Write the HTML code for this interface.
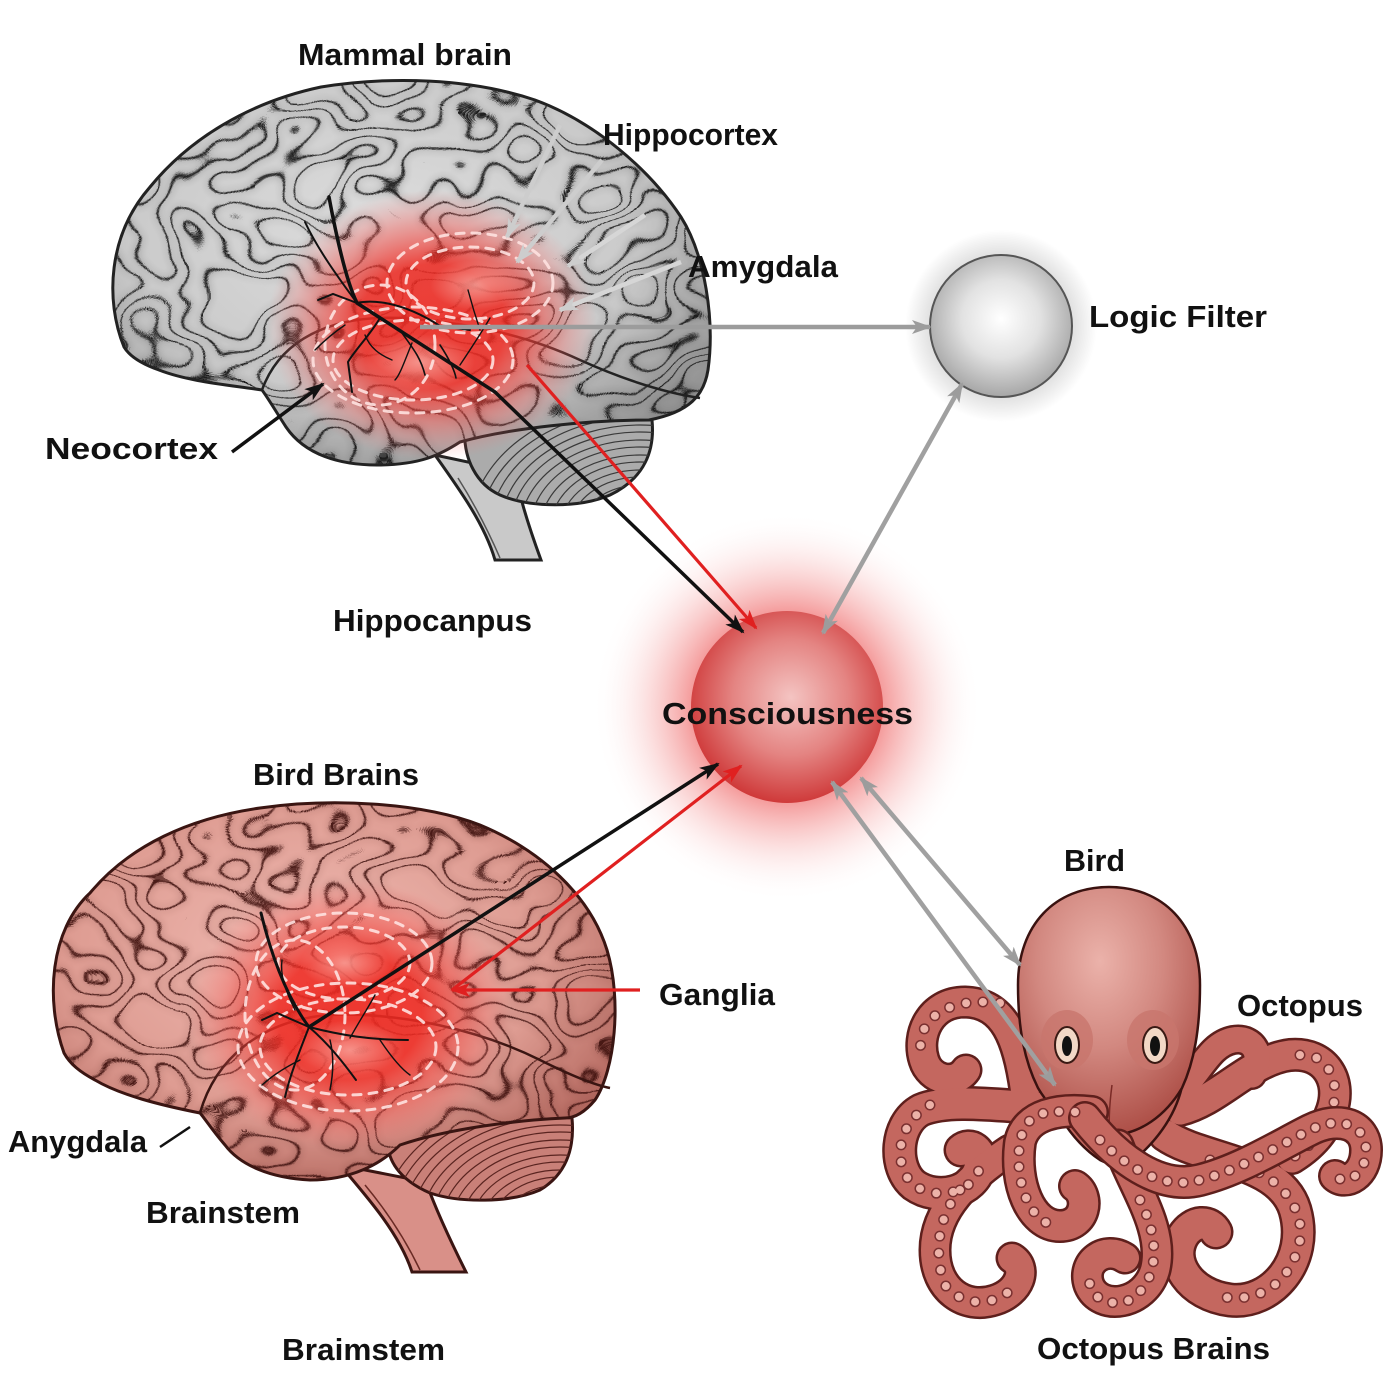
<!DOCTYPE html>
<html>
<head>
<meta charset="utf-8">
<style>
html,body{margin:0;padding:0;background:#ffffff;}
svg{display:block;}
.t{font-family:"Liberation Sans",Arial,sans-serif;font-weight:bold;font-size:31px;fill:#111;}
</style>
</head>
<body>
<svg width="1400" height="1400" viewBox="0 0 1400 1400" xmlns="http://www.w3.org/2000/svg">
<defs>
  <path id="gCer" d="M 124,347 C 105,300 108,235 150,187 C 190,138 250,102 321,87 C 390,76 470,78 535,100 C 595,122 650,170 681,217 C 705,255 715,320 708,370 C 704,395 690,412 649,420 C 590,420 510,428 460,442 C 440,455 420,465 377,465 C 340,465 305,455 286,427 C 275,410 268,398 262,390 C 230,385 190,382 159,370 C 142,364 130,357 124,347 Z"/>
  <path id="gCbl" d="M 465,425 C 520,415 600,415 652,420 C 655,450 645,478 610,495 C 580,508 530,508 500,495 C 478,485 462,460 465,425 Z"/>
  <path id="pCer" d="M 64,1053 C 45,1000 50,930 90,893 C 130,845 190,818 260,808 C 330,798 420,802 480,825 C 540,850 590,895 607,950 C 622,1000 615,1070 595,1100 C 585,1112 575,1118 565,1118 C 520,1120 450,1128 400,1145 C 380,1165 350,1180 310,1180 C 270,1178 240,1165 225,1145 C 212,1130 206,1120 200,1113 C 160,1105 120,1095 95,1080 C 80,1072 70,1064 64,1053 Z"/>
  <path id="pCbl" d="M 388,1135 C 420,1120 520,1112 572,1118 C 575,1150 565,1175 540,1190 C 510,1203 460,1203 430,1193 C 400,1180 385,1160 388,1135 Z"/>
  <clipPath id="cGCer"><use href="#gCer"/></clipPath>
  <clipPath id="cGCbl"><use href="#gCbl"/></clipPath>
  <clipPath id="cPCer"><use href="#pCer"/></clipPath>
  <clipPath id="cPCbl"><use href="#pCbl"/></clipPath>

  <radialGradient id="gB" cx="0.45" cy="0.4" r="0.65">
    <stop offset="0" stop-color="#dedede"/>
    <stop offset="0.65" stop-color="#cacaca"/>
    <stop offset="1" stop-color="#959595"/>
  </radialGradient>
  <radialGradient id="gP" cx="0.45" cy="0.4" r="0.65">
    <stop offset="0" stop-color="#f0bab2"/>
    <stop offset="0.65" stop-color="#de9c92"/>
    <stop offset="1" stop-color="#b4685f"/>
  </radialGradient>
  <radialGradient id="gR">
    <stop offset="0" stop-color="#ee2a22" stop-opacity="0.9"/>
    <stop offset="0.45" stop-color="#ef2a22" stop-opacity="0.85"/>
    <stop offset="0.75" stop-color="#f44a44" stop-opacity="0.4"/>
    <stop offset="1" stop-color="#ff7070" stop-opacity="0"/>
  </radialGradient>
  <radialGradient id="gLight">
    <stop offset="0" stop-color="#ffd8d0" stop-opacity="0.55"/>
    <stop offset="1" stop-color="#ffd8d0" stop-opacity="0"/>
  </radialGradient>
  <radialGradient id="gLogic" cx="0.5" cy="0.45" r="0.55">
    <stop offset="0" stop-color="#ffffff"/>
    <stop offset="0.5" stop-color="#e2e2e2"/>
    <stop offset="1" stop-color="#a6a6a6"/>
  </radialGradient>
  <radialGradient id="gLogicGlow">
    <stop offset="0.7" stop-color="#000" stop-opacity="0.14"/>
    <stop offset="1" stop-color="#000" stop-opacity="0"/>
  </radialGradient>
  <radialGradient id="gConGlow">
    <stop offset="0.45" stop-color="#ea4040" stop-opacity="0.6"/>
    <stop offset="0.7" stop-color="#f28080" stop-opacity="0.28"/>
    <stop offset="1" stop-color="#ffffff" stop-opacity="0"/>
  </radialGradient>
  <radialGradient id="gCon" cx="0.52" cy="0.45" r="0.55">
    <stop offset="0" stop-color="#f4c4c2"/>
    <stop offset="0.55" stop-color="#e48482"/>
    <stop offset="1" stop-color="#cf3a3a"/>
  </radialGradient>
  <radialGradient id="gHead" cx="0.45" cy="0.3" r="0.7">
    <stop offset="0" stop-color="#ebb2aa"/>
    <stop offset="0.5" stop-color="#d28880"/>
    <stop offset="1" stop-color="#ae5048"/>
  </radialGradient>

  <filter id="gyG" filterUnits="userSpaceOnUse" x="100" y="70" width="630" height="420" color-interpolation-filters="sRGB">
    <feTurbulence type="fractalNoise" baseFrequency="0.011 0.015" numOctaves="2" seed="11" result="n0"/>
    <feGaussianBlur in="n0" stdDeviation="2" result="n"/>
    <feColorMatrix in="n" type="matrix" values="0 0 0 0 0.08  0 0 0 0 0.08  0 0 0 0 0.08  1 0 0 0 0" result="a"/>
    <feComponentTransfer in="a" result="l"><feFuncA type="table" tableValues="0 0 0 0 0 0 0 0 0 0 0 0 0 0 0 0 0 0 0 0 0 0 0 0 0 0 0 0 1 0 0 0 0 0 0 0 1 0 0 0 0 0 0 0 1 0 0 0 0 0 0 0 1 0 0 0 0 0 0 0 0 0 0 0 0 0 0 0 0 0 0 0 0 0 0 0 0 0 0 0 0"/></feComponentTransfer>
    <feGaussianBlur in="l" stdDeviation="4" result="b"/>
    <feComponentTransfer in="b" result="b2"><feFuncA type="linear" slope="0.45"/></feComponentTransfer>
    <feMerge><feMergeNode in="b2"/><feMergeNode in="l"/></feMerge>
  </filter>
  <filter id="gyP" filterUnits="userSpaceOnUse" x="40" y="790" width="600" height="410" color-interpolation-filters="sRGB">
    <feTurbulence type="fractalNoise" baseFrequency="0.011 0.015" numOctaves="2" seed="4" result="n0"/>
    <feGaussianBlur in="n0" stdDeviation="2" result="n"/>
    <feColorMatrix in="n" type="matrix" values="0 0 0 0 0.25  0 0 0 0 0.07  0 0 0 0 0.06  1 0 0 0 0" result="a"/>
    <feComponentTransfer in="a" result="l"><feFuncA type="table" tableValues="0 0 0 0 0 0 0 0 0 0 0 0 0 0 0 0 0 0 0 0 0 0 0 0 0 0 0 0 1 0 0 0 0 0 0 0 1 0 0 0 0 0 0 0 1 0 0 0 0 0 0 0 1 0 0 0 0 0 0 0 0 0 0 0 0 0 0 0 0 0 0 0 0 0 0 0 0 0 0 0 0"/></feComponentTransfer>
    <feGaussianBlur in="l" stdDeviation="4" result="b"/>
    <feComponentTransfer in="b" result="b2"><feFuncA type="linear" slope="0.45"/></feComponentTransfer>
    <feMerge><feMergeNode in="b2"/><feMergeNode in="l"/></feMerge>
  </filter>

  <marker id="mG" viewBox="0 0 20 14" refX="18" refY="7" markerWidth="20" markerHeight="14" markerUnits="userSpaceOnUse" orient="auto-start-reverse"><path d="M0,0 L20,7 L0,14 L5,7 Z" fill="#9c9c9c"/></marker>
  <marker id="mL" viewBox="0 0 20 14" refX="18" refY="7" markerWidth="20" markerHeight="14" markerUnits="userSpaceOnUse" orient="auto-start-reverse"><path d="M0,0 L20,7 L0,14 L5,7 Z" fill="#cdcdcd"/></marker>
  <marker id="mK" viewBox="0 0 20 14" refX="18" refY="7" markerWidth="20" markerHeight="14" markerUnits="userSpaceOnUse" orient="auto-start-reverse"><path d="M0,0 L20,7 L0,14 L5,7 Z" fill="#111"/></marker>
  <marker id="mR" viewBox="0 0 20 14" refX="18" refY="7" markerWidth="20" markerHeight="14" markerUnits="userSpaceOnUse" orient="auto-start-reverse"><path d="M0,0 L20,7 L0,14 L5,7 Z" fill="#e02020"/></marker>
</defs>

<rect width="1400" height="1400" fill="#ffffff"/>

<!-- ================= GRAY (MAMMAL) BRAIN ================= -->
<path d="M 435,455 C 460,490 485,525 495,560 L 541,560 C 530,530 520,500 515,472 Z" fill="#c9c9c9" stroke="#222" stroke-width="3"/>
<path d="M 458,478 C 475,505 490,535 500,558" fill="none" stroke="#555" stroke-width="1.5"/>
<use href="#gCbl" fill="#ababab" stroke="#222" stroke-width="3"/>
<g clip-path="url(#cGCbl)" fill="none" stroke="#3a3a3a" stroke-width="1.2">
  <ellipse cx="640" cy="530" rx="40" ry="30"/><ellipse cx="640" cy="530" rx="50" ry="38"/>
  <ellipse cx="640" cy="530" rx="60" ry="45"/><ellipse cx="640" cy="530" rx="70" ry="53"/>
  <ellipse cx="640" cy="530" rx="80" ry="60"/><ellipse cx="640" cy="530" rx="90" ry="68"/>
  <ellipse cx="640" cy="530" rx="100" ry="75"/><ellipse cx="640" cy="530" rx="110" ry="83"/>
  <ellipse cx="640" cy="530" rx="120" ry="90"/><ellipse cx="640" cy="530" rx="130" ry="98"/>
  <ellipse cx="640" cy="530" rx="140" ry="105"/><ellipse cx="640" cy="530" rx="150" ry="113"/>
  <ellipse cx="640" cy="530" rx="160" ry="120"/><ellipse cx="640" cy="530" rx="170" ry="128"/>
</g>
<use href="#gCer" fill="url(#gB)"/>
<g clip-path="url(#cGCer)">
  <rect x="100" y="70" width="630" height="420" filter="url(#gyG)"/>
</g>
<path d="M 262,390 C 280,340 330,315 400,318 C 460,322 520,332 580,360 C 620,378 660,392 700,398" fill="none" stroke="#222" stroke-width="2.5"/>
<use href="#gCer" fill="none" stroke="#222" stroke-width="3"/>
<ellipse cx="432" cy="325" rx="165" ry="135" fill="url(#gR)"/>
<ellipse cx="475" cy="285" rx="45" ry="25" fill="url(#gLight)"/>
<ellipse cx="420" cy="362" rx="55" ry="28" fill="url(#gLight)"/>
<g fill="none" stroke="#ffe2e0" stroke-width="3" stroke-dasharray="8 8" stroke-linecap="round" opacity="0.9">
  <ellipse cx="470" cy="283" rx="83" ry="50"/>
  <ellipse cx="470" cy="283" rx="64" ry="36"/>
  <ellipse cx="413" cy="360" rx="100" ry="53"/>
  <ellipse cx="413" cy="360" rx="80" ry="40"/>
  <ellipse cx="380" cy="345" rx="55" ry="60"/>
</g>
<g fill="none" stroke="#111" stroke-linecap="round">
  <path d="M 329,197 C 338,245 348,285 357,303 L 495,392" stroke-width="3.5"/>
  <path d="M 357,303 C 340,280 318,250 305,222" stroke-width="2"/>
  <path d="M 357,303 L 333,294 L 318,300" stroke-width="2"/>
  <path d="M 357,303 C 370,300 400,300 440,326 L 470,330" stroke-width="2"/>
  <path d="M 380,318 C 370,335 355,350 348,362 L 352,392" stroke-width="2"/>
  <path d="M 400,330 C 410,345 420,355 425,375" stroke-width="1.6"/>
  <path d="M 440,345 C 450,360 455,372 456,378" stroke-width="1.6"/>
  <path d="M 460,365 C 470,350 480,335 490,318" stroke-width="1.4"/>
  <path d="M 468,290 C 472,305 476,318 480,330" stroke-width="1.4"/>
  <path d="M 345,325 C 330,335 320,345 315,350" stroke-width="1.4"/>
  <path d="M 365,335 C 370,348 380,355 392,360" stroke-width="1.4"/>
  <path d="M 412,343 C 405,360 400,375 395,380" stroke-width="1.4"/>
</g>

<!-- ================= PINK (BIRD) BRAIN ================= -->
<path d="M 340,1165 C 370,1200 400,1235 412,1272 L 466,1272 C 450,1240 436,1210 426,1182 Z" fill="#d99088" stroke="#3a1512" stroke-width="3"/>
<path d="M 365,1185 C 390,1215 408,1245 420,1270" fill="none" stroke="#6a2a24" stroke-width="1.5"/>
<use href="#pCbl" fill="#c98078" stroke="#3a1512" stroke-width="3"/>
<g clip-path="url(#cPCbl)" fill="none" stroke="#5a2420" stroke-width="1.2">
  <ellipse cx="560" cy="1230" rx="40" ry="30"/><ellipse cx="560" cy="1230" rx="50" ry="38"/>
  <ellipse cx="560" cy="1230" rx="60" ry="45"/><ellipse cx="560" cy="1230" rx="70" ry="53"/>
  <ellipse cx="560" cy="1230" rx="80" ry="60"/><ellipse cx="560" cy="1230" rx="90" ry="68"/>
  <ellipse cx="560" cy="1230" rx="100" ry="75"/><ellipse cx="560" cy="1230" rx="110" ry="83"/>
  <ellipse cx="560" cy="1230" rx="120" ry="90"/><ellipse cx="560" cy="1230" rx="130" ry="98"/>
  <ellipse cx="560" cy="1230" rx="140" ry="105"/><ellipse cx="560" cy="1230" rx="150" ry="113"/>
  <ellipse cx="560" cy="1230" rx="160" ry="120"/><ellipse cx="560" cy="1230" rx="170" ry="128"/>
  <ellipse cx="560" cy="1230" rx="180" ry="135"/>
</g>
<use href="#pCer" fill="url(#gP)"/>
<g clip-path="url(#cPCer)">
  <rect x="40" y="790" width="600" height="410" filter="url(#gyP)"/>
</g>
<path d="M 200,1113 C 215,1060 260,1020 330,1015 C 400,1012 480,1030 540,1060 C 570,1075 595,1085 610,1088" fill="none" stroke="#3a1512" stroke-width="2.5"/>
<use href="#pCer" fill="none" stroke="#3a1512" stroke-width="3"/>
<ellipse cx="350" cy="1015" rx="160" ry="135" fill="url(#gR)"/>
<ellipse cx="345" cy="963" rx="45" ry="25" fill="url(#gLight)"/>
<ellipse cx="350" cy="1050" rx="55" ry="30" fill="url(#gLight)"/>
<g fill="none" stroke="#ffe2e0" stroke-width="3" stroke-dasharray="8 8" stroke-linecap="round" opacity="0.9">
  <ellipse cx="344" cy="963" rx="88" ry="50"/>
  <ellipse cx="344" cy="963" rx="66" ry="36"/>
  <ellipse cx="348" cy="1047" rx="110" ry="64"/>
  <ellipse cx="348" cy="1047" rx="88" ry="48"/>
  <ellipse cx="295" cy="1015" rx="50" ry="75"/>
</g>
<g fill="none" stroke="#111" stroke-linecap="round">
  <path d="M 261,913 C 270,950 285,995 309,1027" stroke-width="3"/>
  <path d="M 309,1027 L 277,1013 L 262,1020" stroke-width="2"/>
  <path d="M 309,1027 C 300,1050 290,1075 285,1097" stroke-width="2"/>
  <path d="M 309,1027 C 330,1045 345,1065 356,1080" stroke-width="2"/>
  <path d="M 309,1027 C 340,1035 370,1040 408,1040" stroke-width="2"/>
  <path d="M 330,1040 C 335,1060 332,1080 330,1090" stroke-width="1.5"/>
  <path d="M 350,1038 C 360,1020 368,1008 375,995" stroke-width="1.4"/>
  <path d="M 380,1040 C 390,1055 400,1068 410,1075" stroke-width="1.4"/>
  <path d="M 295,1010 C 285,990 280,975 282,960" stroke-width="1.4"/>
  <path d="M 300,1060 C 280,1070 270,1078 262,1085" stroke-width="1.4"/>
</g>

<!-- ================= LOGIC FILTER ================= -->
<circle cx="1001" cy="326" r="96" fill="url(#gLogicGlow)"/>
<circle cx="1001" cy="326" r="71" fill="url(#gLogic)" stroke="#555" stroke-width="2"/>

<!-- ================= CONSCIOUSNESS ================= -->
<circle cx="787" cy="707" r="195" fill="url(#gConGlow)"/>
<circle cx="787" cy="707" r="96" fill="url(#gCon)"/>

<!-- ================= OCTOPUS ================= -->
<g fill="none" stroke-linecap="round" stroke-linejoin="round">
  <g stroke="#5e1f1c">
    <path d="M 1180,1110 C 1220,1100 1250,1060 1290,1055 C 1325,1052 1342,1080 1332,1110 C 1324,1135 1305,1150 1292,1158" stroke-width="34"/>
    <path d="M 1175,1095 C 1200,1075 1208,1045 1233,1040 C 1255,1036 1264,1058 1252,1075" stroke-width="30"/>
    <path d="M 1165,1135 C 1200,1160 1280,1160 1295,1210 C 1310,1262 1270,1305 1230,1300 C 1190,1295 1168,1262 1183,1236 C 1193,1220 1210,1220 1216,1232" stroke-width="35"/>
    <path d="M 1025,1090 C 1018,1040 1005,1003 965,1002 C 930,1002 916,1035 924,1060 C 930,1080 955,1086 966,1070" stroke-width="33"/>
    <path d="M 1045,1108 C 1000,1106 950,1098 921,1110 C 895,1124 893,1168 914,1185 C 938,1202 975,1192 980,1166 C 983,1150 970,1142 961,1150" stroke-width="35"/>
    <path d="M 1010,1150 C 968,1178 935,1210 935,1250 C 935,1290 965,1310 995,1300 C 1020,1292 1028,1268 1012,1258" stroke-width="33"/>
  </g>
  <g stroke="#c4675f">
    <path d="M 1180,1110 C 1220,1100 1250,1060 1290,1055 C 1325,1052 1342,1080 1332,1110 C 1324,1135 1305,1150 1292,1158" stroke-width="29"/>
    <path d="M 1175,1095 C 1200,1075 1208,1045 1233,1040 C 1255,1036 1264,1058 1252,1075" stroke-width="25"/>
    <path d="M 1165,1135 C 1200,1160 1280,1160 1295,1210 C 1310,1262 1270,1305 1230,1300 C 1190,1295 1168,1262 1183,1236 C 1193,1220 1210,1220 1216,1232" stroke-width="30"/>
    <path d="M 1025,1090 C 1018,1040 1005,1003 965,1002 C 930,1002 916,1035 924,1060 C 930,1080 955,1086 966,1070" stroke-width="28"/>
    <path d="M 1045,1108 C 1000,1106 950,1098 921,1110 C 895,1124 893,1168 914,1185 C 938,1202 975,1192 980,1166 C 983,1150 970,1142 961,1150" stroke-width="30"/>
    <path d="M 1010,1150 C 968,1178 935,1210 935,1250 C 935,1290 965,1310 995,1300 C 1020,1292 1028,1268 1012,1258" stroke-width="28"/>
  </g>
  <g stroke-dasharray="0 17">
    <g stroke="#7a3030" stroke-width="11">
      <path d="M 1300,1055 C 1325,1052 1342,1080 1332,1110 C 1324,1135 1305,1150 1292,1158"/>
      <path d="M 1210,1160 C 1280,1165 1305,1210 1300,1240 C 1290,1290 1250,1305 1215,1295"/>
      <path d="M 1000,1003 C 930,995 912,1035 924,1060"/>
      <path d="M 930,1105 C 895,1124 893,1168 914,1185 C 938,1202 975,1192 980,1166"/>
      <path d="M 960,1190 C 935,1220 935,1260 945,1285 C 965,1310 1000,1305 1015,1285"/>
    </g>
    <g stroke="#ecb2a8" stroke-width="8">
      <path d="M 1300,1055 C 1325,1052 1342,1080 1332,1110 C 1324,1135 1305,1150 1292,1158"/>
      <path d="M 1210,1160 C 1280,1165 1305,1210 1300,1240 C 1290,1290 1250,1305 1215,1295"/>
      <path d="M 1000,1003 C 930,995 912,1035 924,1060"/>
      <path d="M 930,1105 C 895,1124 893,1168 914,1185 C 938,1202 975,1192 980,1166"/>
      <path d="M 960,1190 C 935,1220 935,1260 945,1285 C 965,1310 1000,1305 1015,1285"/>
    </g>
  </g>
</g>
<path d="M 1040,1060 C 1045,1100 1070,1140 1100,1160 C 1115,1168 1130,1165 1145,1150 C 1170,1125 1185,1095 1185,1060 Z" fill="#c0645c" stroke="#3a1210" stroke-width="2.5"/>
<path d="M 1018,985 C 1018,925 1055,887 1109,887 C 1163,887 1200,925 1200,985 C 1200,1030 1194,1062 1182,1088 C 1166,1115 1140,1135 1110,1135 C 1080,1135 1054,1115 1038,1088 C 1025,1062 1018,1030 1018,985 Z" fill="url(#gHead)" stroke="#3a1210" stroke-width="2.5"/>
<ellipse cx="1067" cy="1040" rx="26" ry="30" fill="#c8756d" opacity="0.8"/>
<ellipse cx="1153" cy="1040" rx="26" ry="30" fill="#c8756d" opacity="0.8"/>
<ellipse cx="1067" cy="1045" rx="12" ry="18" fill="#f2d8c6" stroke="#3a1a14" stroke-width="2"/>
<ellipse cx="1067" cy="1046" rx="5" ry="10" fill="#111"/>
<ellipse cx="1155" cy="1045" rx="12" ry="18" fill="#f2d8c6" stroke="#3a1a14" stroke-width="2"/>
<ellipse cx="1155" cy="1046" rx="5" ry="10" fill="#111"/>
<path d="M 1112,1085 C 1110,1100 1108,1120 1110,1140" fill="none" stroke="#7a2a26" stroke-width="1.5"/>
<g fill="none" stroke-linecap="round" stroke-linejoin="round">
  <path d="M 1118,1145 C 1135,1190 1165,1230 1155,1270 C 1145,1305 1100,1312 1089,1285 C 1081,1262 1105,1245 1125,1258" stroke="#5e1f1c" stroke-width="33"/>
  <path d="M 1118,1145 C 1135,1190 1165,1230 1155,1270 C 1145,1305 1100,1312 1089,1285 C 1081,1262 1105,1245 1125,1258" stroke="#c4675f" stroke-width="28"/>
  <path d="M 1092,1112 C 1060,1108 1026,1114 1020,1142 C 1014,1182 1030,1226 1060,1226 C 1086,1226 1090,1196 1075,1186" stroke="#5e1f1c" stroke-width="34"/>
  <path d="M 1092,1112 C 1060,1108 1026,1114 1020,1142 C 1014,1182 1030,1226 1060,1226 C 1086,1226 1090,1196 1075,1186" stroke="#c4675f" stroke-width="29"/>
  <path d="M 1085,1118 C 1118,1160 1160,1190 1200,1180 C 1240,1170 1280,1145 1310,1130 C 1340,1115 1366,1125 1366,1150 C 1366,1175 1346,1186 1335,1176" stroke="#5e1f1c" stroke-width="34"/>
  <path d="M 1085,1118 C 1118,1160 1160,1190 1200,1180 C 1240,1170 1280,1145 1310,1130 C 1340,1115 1366,1125 1366,1150 C 1366,1175 1346,1186 1335,1176" stroke="#c4675f" stroke-width="29"/>
  <g stroke-dasharray="0 16">
    <g stroke="#7a3030" stroke-width="11">
      <path d="M 1140,1200 C 1160,1240 1160,1280 1130,1300 C 1100,1310 1085,1290 1090,1270"/>
      <path d="M 1075,1112 C 1040,1110 1026,1114 1020,1142 C 1014,1182 1030,1226 1060,1226"/>
      <path d="M 1100,1140 C 1130,1170 1165,1190 1200,1180 C 1240,1170 1280,1145 1310,1130 C 1340,1115 1366,1125 1366,1150 C 1366,1175 1346,1186 1335,1176"/>
    </g>
    <g stroke="#ecb2a8" stroke-width="8">
      <path d="M 1140,1200 C 1160,1240 1160,1280 1130,1300 C 1100,1310 1085,1290 1090,1270"/>
      <path d="M 1075,1112 C 1040,1110 1026,1114 1020,1142 C 1014,1182 1030,1226 1060,1226"/>
      <path d="M 1100,1140 C 1130,1170 1165,1190 1200,1180 C 1240,1170 1280,1145 1310,1130 C 1340,1115 1366,1125 1366,1150 C 1366,1175 1346,1186 1335,1176"/>
    </g>
  </g>
</g>

<!-- ================= ARROWS ================= -->
<g fill="none" stroke-linecap="butt">
  <line x1="560" y1="125" x2="507" y2="237" stroke="#cdcdcd" stroke-width="4.5" marker-end="url(#mL)"/>
  <line x1="602" y1="160" x2="517" y2="262" stroke="#cdcdcd" stroke-width="4.5" marker-end="url(#mL)"/>
  <line x1="645" y1="215" x2="568" y2="266" stroke="#d6d6d6" stroke-width="4.5" marker-end="url(#mL)"/>
  <line x1="681" y1="262" x2="560" y2="310" stroke="#d6d6d6" stroke-width="4.5" marker-end="url(#mL)"/>
  <line x1="420" y1="327" x2="930" y2="327" stroke="#9c9c9c" stroke-width="4.5" marker-end="url(#mG)"/>
  <line x1="962" y1="384" x2="823" y2="633" stroke="#a0a0a0" stroke-width="4.5" marker-start="url(#mG)" marker-end="url(#mG)"/>
  <line x1="495" y1="392" x2="743" y2="632" stroke="#111" stroke-width="3.5" marker-end="url(#mK)"/>
  <line x1="527" y1="365" x2="756" y2="628" stroke="#e02020" stroke-width="3.2" marker-end="url(#mR)"/>
  <line x1="232" y1="452" x2="323" y2="384" stroke="#111" stroke-width="3.5" marker-end="url(#mK)"/>
  <line x1="309" y1="1027" x2="718" y2="764" stroke="#111" stroke-width="3.5" marker-end="url(#mK)"/>
  <line x1="452" y1="990" x2="741" y2="766" stroke="#e02020" stroke-width="3.2" marker-end="url(#mR)"/>
  <line x1="640" y1="990" x2="452" y2="990" stroke="#e02020" stroke-width="3.2" marker-end="url(#mR)"/>
  <line x1="160" y1="1147" x2="190" y2="1127" stroke="#111" stroke-width="2.5"/>
  <line x1="832" y1="782" x2="1055" y2="1085" stroke="#a0a0a0" stroke-width="4.5" marker-start="url(#mG)" marker-end="url(#mG)"/>
  <line x1="861" y1="778" x2="1020" y2="965" stroke="#a0a0a0" stroke-width="4.5" marker-start="url(#mG)" marker-end="url(#mG)"/>
</g>

<!-- ================= LABELS ================= -->
<text class="t" x="298" y="65" textLength="214" lengthAdjust="spacingAndGlyphs">Mammal brain</text>
<text class="t" x="603" y="145" textLength="175" lengthAdjust="spacingAndGlyphs">Hippocortex</text>
<text class="t" x="688" y="277" textLength="150" lengthAdjust="spacingAndGlyphs">Amygdala</text>
<text class="t" x="1089" y="327" textLength="178" lengthAdjust="spacingAndGlyphs">Logic Filter</text>
<text class="t" x="45" y="459" textLength="173" lengthAdjust="spacingAndGlyphs">Neocortex</text>
<text class="t" x="333" y="631" textLength="199" lengthAdjust="spacingAndGlyphs">Hippocanpus</text>
<text class="t" x="662" y="724" textLength="251" lengthAdjust="spacingAndGlyphs">Consciousness</text>
<text class="t" x="253" y="785" textLength="166" lengthAdjust="spacingAndGlyphs">Bird Brains</text>
<text class="t" x="1064" y="871" textLength="61" lengthAdjust="spacingAndGlyphs">Bird</text>
<text class="t" x="1237" y="1016" textLength="126" lengthAdjust="spacingAndGlyphs">Octopus</text>
<text class="t" x="659" y="1005" textLength="116" lengthAdjust="spacingAndGlyphs">Ganglia</text>
<text class="t" x="8" y="1152" textLength="139" lengthAdjust="spacingAndGlyphs">Anygdala</text>
<text class="t" x="146" y="1223" textLength="154" lengthAdjust="spacingAndGlyphs">Brainstem</text>
<text class="t" x="282" y="1360" textLength="163" lengthAdjust="spacingAndGlyphs">Braimstem</text>
<text class="t" x="1037" y="1359" textLength="233" lengthAdjust="spacingAndGlyphs">Octopus Brains</text>
</svg>
</body>
</html>
